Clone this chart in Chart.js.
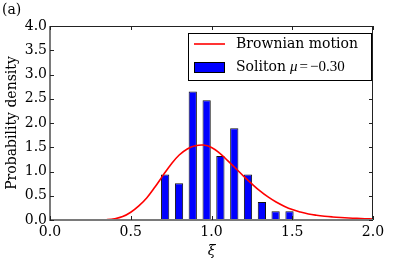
<!DOCTYPE html>
<html>
<head>
<meta charset="utf-8">
<script src="https://cdn.jsdelivr.net/npm/chart.js@4"></script>
<style>
  body { margin: 0; background: #fff; }
  canvas { display: block; }
</style>
</head>
<body>
<canvas id="chart" width="415" height="260"></canvas>
<script>
// histogram of soliton positions (bin centres and densities)
const binCenters = [0.713, 0.799, 0.884, 0.970, 1.055, 1.141, 1.226, 1.312, 1.397, 1.483];
const binDensity = [0.94, 0.76, 2.65, 2.47, 1.32, 1.89, 0.94, 0.37, 0.18, 0.18];

const curveX = [0.00, 0.05, 0.10, 0.15, 0.20, 0.25, 0.30, 0.35, 0.40, 0.45,
                0.50, 0.55, 0.60, 0.65, 0.70, 0.75, 0.80, 0.85, 0.90, 0.95,
                1.00, 1.05, 1.10, 1.15, 1.20, 1.25, 1.30, 1.35, 1.40, 1.45,
                1.50, 1.55, 1.60, 1.65, 1.70, 1.75, 1.80, 1.85, 1.90, 1.95, 2.00];
const curveY = [0, 0, 0, 0, 0, 0, 0.001, 0.006, 0.025, 0.07,
                0.16, 0.29, 0.46, 0.68, 0.92, 1.15, 1.34, 1.465, 1.53, 1.545,
                1.495, 1.38, 1.225, 1.065, 0.90, 0.745, 0.60, 0.475, 0.37, 0.285,
                0.215, 0.165, 0.125, 0.098, 0.078, 0.063, 0.051, 0.041, 0.033, 0.026, 0.02];

const xTicks = [0.0, 0.5, 1.0, 1.5, 2.0];
const yTicks = [0.0, 0.5, 1.0, 1.5, 2.0, 2.5, 3.0, 3.5, 4.0];

const lineLabel = 'Brownian motion';
const barLabel = ['Soliton', 'μ', '=', '−0.30'];
const panelLabel = '(a)';
const xTitle = 'ξ';
const yTitle = 'Probability density';

const SERIF = '"DejaVu Serif", "Liberation Serif", serif';
const MATH = '"Liberation Serif", serif';

const framePlugin = {
  id: 'frame',
  afterDraw(chart) {
    const { ctx, chartArea: a, scales: { x, y } } = chart;
    ctx.save();

    // spines
    ctx.strokeStyle = '#222';
    ctx.lineWidth = 1;
    ctx.beginPath();
    ctx.moveTo(a.left, a.top + 0.5);
    ctx.lineTo(a.right, a.top + 0.5);
    ctx.moveTo(a.right - 0.5, a.top);
    ctx.lineTo(a.right - 0.5, a.bottom);
    ctx.stroke();
    ctx.strokeStyle = '#7a7a7a';
    ctx.lineWidth = 2;
    ctx.beginPath();
    ctx.moveTo(a.left, a.top);
    ctx.lineTo(a.left, a.bottom);
    ctx.lineTo(a.right, a.bottom);
    ctx.stroke();

    // inward ticks on all four sides
    ctx.strokeStyle = '#222';
    ctx.lineWidth = 1;
    ctx.beginPath();
    xTicks.forEach(v => {
      const px = Math.round(x.getPixelForValue(v)) + 0.5;
      ctx.moveTo(px, a.bottom);
      ctx.lineTo(px, a.bottom - 4);
      ctx.moveTo(px, a.top);
      ctx.lineTo(px, a.top + 4);
    });
    yTicks.forEach(v => {
      const py = Math.round(y.getPixelForValue(v)) + 0.5;
      ctx.moveTo(a.left, py);
      ctx.lineTo(a.left + 4, py);
      ctx.moveTo(a.right, py);
      ctx.lineTo(a.right - 4, py);
    });
    ctx.stroke();

    // legend
    const bx = a.right - 185, by = a.top + 7, bw = 183, bh = 47;
    ctx.fillStyle = '#fff';
    ctx.fillRect(bx, by, bw, bh);
    ctx.strokeStyle = '#000';
    ctx.lineWidth = 1;
    ctx.strokeRect(bx + 0.5, by + 0.5, bw, bh);

    ctx.strokeStyle = '#ff0000';
    ctx.lineWidth = 1.6;
    ctx.beginPath();
    ctx.moveTo(bx + 6, by + 11);
    ctx.lineTo(bx + 37, by + 11);
    ctx.stroke();

    ctx.fillStyle = '#0000ff';
    ctx.fillRect(bx + 6, by + 29, 31, 10);
    ctx.strokeStyle = '#000';
    ctx.lineWidth = 1;
    ctx.strokeRect(bx + 6.5, by + 29.5, 30, 10);

    ctx.fillStyle = '#000';
    ctx.textBaseline = 'middle';
    ctx.textAlign = 'left';
    ctx.font = '14px ' + SERIF;
    ctx.fillText(lineLabel, bx + 48, by + 11);

    // "Soliton μ=−0.30" with mathtext-like spacing
    const fonts = ['14px ' + SERIF, 'italic 15px ' + MATH, '15px ' + MATH, '15px ' + MATH];
    const gaps = [4, 2, 2, 0];
    let tx = bx + 48;
    barLabel.forEach((part, i) => {
      ctx.font = fonts[i];
      ctx.fillText(part, tx, by + 34);
      tx += ctx.measureText(part).width + gaps[i];
    });

    // panel label
    ctx.font = '14px ' + SERIF;
    ctx.fillText(panelLabel, 2, 10);

    ctx.restore();
  }
};

new Chart(document.getElementById('chart'), {
  type: 'bar',
  data: {
    datasets: [
      {
        type: 'line',
        label: lineLabel,
        data: curveX.map((v, i) => ({ x: v, y: curveY[i] })),
        borderColor: '#ff0000',
        borderWidth: 1.6,
        pointRadius: 0,
        tension: 0.4,
        fill: false,
        order: 0
      },
      {
        type: 'bar',
        label: barLabel.join(''),
        data: binCenters.map((v, i) => ({ x: v, y: binDensity[i] })),
        backgroundColor: '#0000ff',
        borderColor: '#111',
        borderWidth: 1,
        borderSkipped: false,
        categoryPercentage: 1,
        barPercentage: 0.6,
        order: 1
      }
    ]
  },
  options: {
    responsive: false,
    animation: false,
    layout: { padding: { left: 0, right: 42, top: 26, bottom: 0 } },
    plugins: {
      legend: { display: false },
      tooltip: { enabled: false }
    },
    scales: {
      x: {
        type: 'linear',
        min: 0,
        max: 2,
        offset: false,
        afterFit: s => { s.height = 40; },
        afterBuildTicks: s => { s.ticks = xTicks.map(v => ({ value: v })); },
        grid: { display: false, drawTicks: false, offset: false },
        border: { display: false },
        ticks: {
          padding: 4,
          color: '#000',
          font: { family: SERIF, size: 14 },
          maxRotation: 0,
          callback: v => v.toFixed(1)
        },
        title: {
          display: true,
          text: xTitle,
          color: '#000',
          font: { family: SERIF, size: 14, style: 'italic' },
          padding: { top: 0, bottom: 0 }
        }
      },
      y: {
        min: 0,
        max: 4,
        afterFit: s => { s.width = 50; },
        afterBuildTicks: s => { s.ticks = yTicks.map(v => ({ value: v })); },
        grid: { display: false, drawTicks: false },
        border: { display: false },
        ticks: {
          padding: 3,
          color: '#000',
          font: { family: SERIF, size: 14 },
          callback: v => v.toFixed(1)
        },
        title: {
          display: true,
          text: yTitle,
          color: '#000',
          font: { family: SERIF, size: 14 },
          padding: { top: 4, bottom: 0 }
        }
      }
    }
  },
  plugins: [framePlugin]
});
</script>
</body>
</html>
